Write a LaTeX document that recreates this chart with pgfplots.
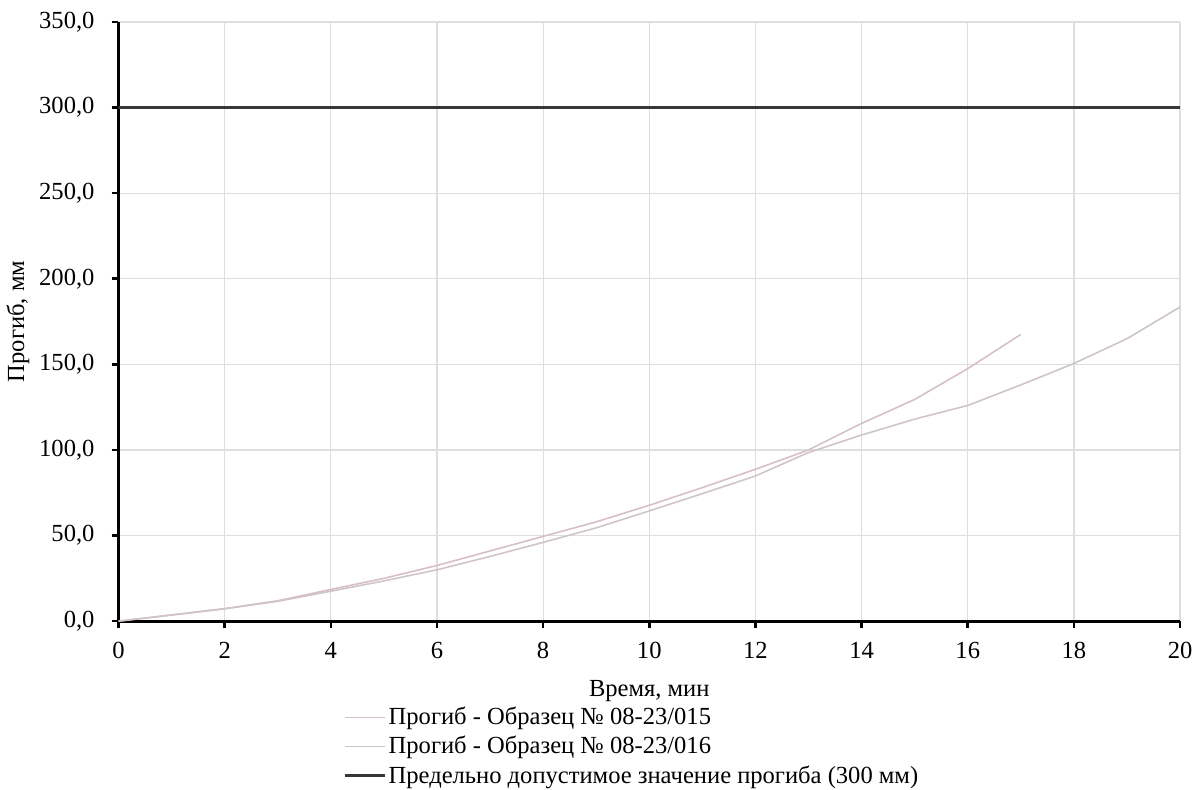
\documentclass[border=0pt]{standalone}
\usepackage{pgfplots}
\pgfplotsset{compat=1.18}
\usepackage{fontspec}
\setmainfont{Liberation Serif}
\definecolor{curveA}{RGB}{214,192,198}
\definecolor{curveB}{RGB}{208,196,200}
\definecolor{gridc}{RGB}{222,222,222}
\definecolor{limitc}{RGB}{55,55,55}
\begin{document}
\begin{tikzpicture}[font=\fontsize{12.3}{14}\selectfont]
\begin{axis}[
  name=ax,
  scale only axis,
  width=531.5pt, height=300pt,
  xmin=0, xmax=20, ymin=0, ymax=350,
  xtick={0,2,...,20}, ytick={0,50,...,350},
  axis x line*=bottom, axis y line*=left,
  axis line style={line width=1.5pt, black, -},
  tick align=outside, major tick length=3.5pt,
  tick style={line width=1.3pt, black},
  grid=major, major grid style={gridc, line width=0.6pt},
  /pgf/number format/assume math mode=true,
  yticklabel style={xshift=-5pt, /pgf/number format/.cd, fixed, fixed zerofill, precision=1, use comma},
  xticklabel style={yshift=-3.5pt, /pgf/number format/.cd, fixed, precision=0},
  scaled y ticks=false,
  xlabel={Время, мин}, ylabel={Прогиб, мм},
  xlabel style={yshift=-4pt},
  ylabel style={yshift=-2pt},
  legend style={at={(0.212,-0.138)}, anchor=north west, draw=none, fill=none,
    inner sep=0pt, row sep=1.3pt, nodes={inner xsep=1pt, inner ysep=1.5pt}},
  legend cell align=left,
  legend image code/.code={\draw[#1] (0pt,0pt) -- (20pt,0pt);},
]
\addplot[curveA, line width=0.8pt] coordinates {
 (0,0) (0.5,1.8) (1,3.6) (2,7.3) (3,11.9) (4,18.5) (5,25) (6,32.5) (7,41) (8,49.5)
 (9,58) (10,67.7) (11,78) (12,88.7) (13,100) (14,115.5) (15,129.5) (16,147.5) (17,167.5)};
\addlegendentry{Прогиб - Образец № 08-23/015}
\addplot[curveB, line width=0.8pt] coordinates {
 (0,0) (0.5,1.8) (1,3.6) (2,7.2) (3,11.6) (4,17.5) (5,23.5) (6,30) (7,37.8) (8,46)
 (9,54.5) (10,64.4) (11,74.5) (12,84.8) (13,98.5) (14,108.7) (15,118) (16,126)
 (17,138) (18,150.5) (19,165) (20,183.5)};
\addlegendentry{Прогиб - Образец № 08-23/016}
\addplot[limitc, line width=1.4pt] coordinates {(0,300) (20,300)};
\addlegendentry{Предельно допустимое значение прогиба (300 мм)}
\end{axis}
\path ([yshift=11pt]ax.north);
\end{tikzpicture}
\end{document}
